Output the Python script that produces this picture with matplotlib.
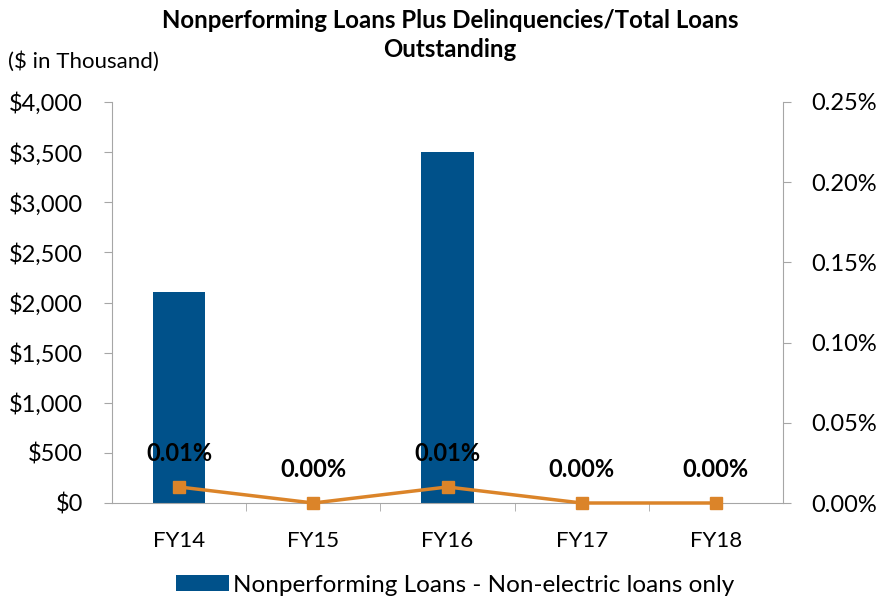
import matplotlib
matplotlib.use("Agg")
import matplotlib.pyplot as plt
from matplotlib.ticker import FuncFormatter, MultipleLocator

plt.rcParams['font.family'] = ['Lato', 'DejaVu Sans']

categories = ["FY14", "FY15", "FY16", "FY17", "FY18"]
loans = [2100, 0, 3500, 0, 0]
ratio = [0.0001, 0.0, 0.0001, 0.0, 0.0]
ratio_labels = ["0.01%", "0.00%", "0.01%", "0.00%", "0.00%"]

bar_color = "#00518A"
line_color = "#DB8429"
axis_color = "#A6A6A6"

fig = plt.figure(figsize=(8.8, 6.0), dpi=100)
ax = fig.add_axes([112/880, 1 - 503/600, (783-112)/880, (503-102)/600])
x = list(range(len(categories)))
ax.bar(x, loans, width=0.39, color=bar_color, label="Nonperforming Loans - Non-electric loans only", zorder=2)
ax.set_xlim(-0.5, len(categories) - 0.5)
ax.set_ylim(0, 4000)
ax.yaxis.set_major_locator(MultipleLocator(500))
ax.yaxis.set_major_formatter(FuncFormatter(lambda v, p: f"${v:,.0f}"))
ax.set_xticks(x)
ax.set_xticklabels(categories)
ax.set_xticks([i + 0.5 for i in x[:-1]], minor=True)
ax.tick_params(axis='x', which='major', length=0, pad=20, labelsize=16)
ax.tick_params(axis='x', which='minor', length=6, color=axis_color, direction='out')
ax.tick_params(axis='y', length=6, color=axis_color, labelsize=17, pad=15)
for s in ['top', 'right']:
    ax.spines[s].set_visible(False)
for s in ['left', 'bottom']:
    ax.spines[s].set_color(axis_color)

ax2 = ax.twinx()
ax2.set_ylim(0, 0.0025)
ax2.yaxis.set_major_locator(MultipleLocator(0.0005))
ax2.yaxis.set_major_formatter(FuncFormatter(lambda v, p: f"{v*100:.2f}%"))
ax2.tick_params(axis='y', length=6, color=axis_color, labelsize=17, pad=14)
for s in ['top', 'left', 'bottom']:
    ax2.spines[s].set_visible(False)
ax2.spines['right'].set_color(axis_color)
ax2.plot(x, ratio, color=line_color, linewidth=2.5, marker='s', markersize=9, zorder=3, clip_on=False)
for xi, yi, lab in zip(x, ratio, ratio_labels):
    ax2.annotate(lab, (xi, yi), xytext=(0, 24), textcoords='offset points', ha='center', va='center',
                 fontsize=17, fontweight='bold', color='black')

fig.text(450/880, 1 - 35/600, "Nonperforming Loans Plus Delinquencies/Total Loans\nOutstanding",
         ha='center', va='center', fontsize=17.3, fontweight='bold', linespacing=1.35)
fig.text(8/880, 1 - 62/600, "($ in Thousand)", ha='left', va='center', fontsize=16)

fig.legend(*ax.get_legend_handles_labels(), loc='center', bbox_to_anchor=(455/880, 1 - 585/600),
           frameon=False, fontsize=17.5, handlelength=2.2, handleheight=0.65, handletextpad=0.15)

fig.savefig("out.png", dpi=100)
